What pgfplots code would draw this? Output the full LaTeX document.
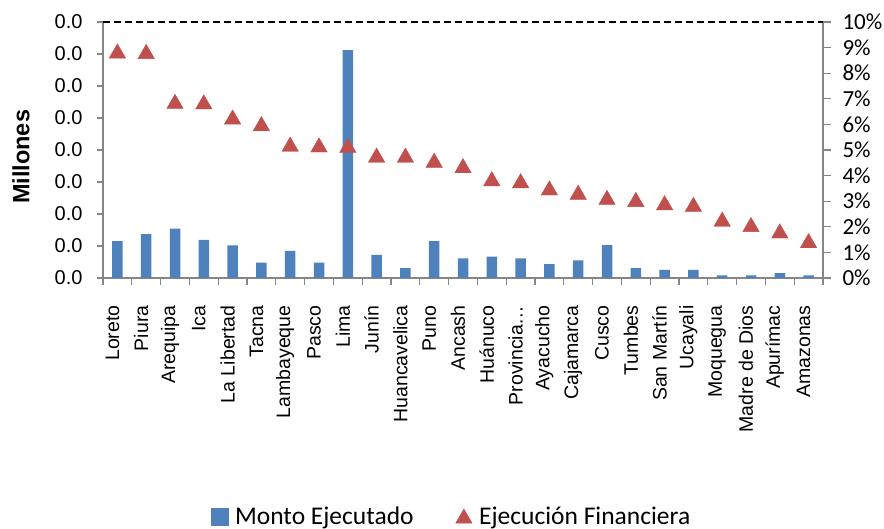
\documentclass[border=0pt]{standalone}
\usepackage{fontspec}
\setmainfont{Carlito}
\newfontfamily\arialf{Liberation Sans}
\usepackage{pgfplots}
\pgfplotsset{compat=1.18}
\definecolor{barblue}{HTML}{4F81BD}
\definecolor{trired}{HTML}{C0504D}
\definecolor{axgray}{HTML}{868686}
\begin{document}
\begin{tikzpicture}
\useasboundingbox (0,0) rectangle (884bp,529bp);
\begin{axis}[
  at={(103bp,251bp)}, anchor=south west,
  width=720bp, height=256bp, scale only axis,
  xmin=-0.5, xmax=24.5, ymin=0, ymax=8,
  axis x line*=bottom, axis y line*=left,
  axis line style={axgray, line width=1.2bp},
  xtick={0,...,24},
  xticklabels={Loreto,Piura,Arequipa,Ica,La Libertad,Tacna,Lambayeque,Pasco,Lima,Junín,Huancavelica,Puno,Ancash,Huánuco,Provincia…,Ayacucho,Cajamarca,Cusco,Tumbes,San Martín,Ucayali,Moquegua,Madre de Dios,Apurímac,Amazonas},
  minor xtick={-0.5,0.5,...,24.5},
  major x tick style={draw=none},
  minor x tick style={axgray, line width=1.2bp},
  y tick style={axgray, line width=1.2bp},
  ytick={0,...,8},
  yticklabels={0.0,0.0,0.0,0.0,0.0,0.0,0.0,0.0,0.0},
  tick align=outside,
  major tick length=6bp, minor tick length=7bp,
  xticklabel style={rotate=90, anchor=east, xshift=-18bp, yshift=5bp, font=\arialf\fontsize{19.5bp}{23bp}\selectfont},
  yticklabel style={xshift=-11bp, font=\arialf\fontsize{20bp}{24bp}\selectfont},
  every axis y label/.style={at={(axis description cs:-0.114,0.473)}, rotate=90, anchor=center},
  ylabel={\arialf\bfseries\fontsize{23.5bp}{26bp}\selectfont Millones},
]
\addplot[ybar, bar width=10.5bp, fill=barblue, draw=none] coordinates {
(0,1.15) (1,1.37) (2,1.54) (3,1.19) (4,1.02) (5,0.48) (6,0.85) (7,0.48)
(8,7.12) (9,0.72) (10,0.31) (11,1.15) (12,0.61) (13,0.67) (14,0.61)
(15,0.43) (16,0.55) (17,1.03) (18,0.31) (19,0.25) (20,0.25) (21,0.08)
(22,0.08) (23,0.15) (24,0.08)};
\end{axis}
\begin{axis}[
  at={(103bp,251bp)}, anchor=south west,
  width=720bp, height=256bp, scale only axis,
  xmin=-0.5, xmax=24.5, ymin=0, ymax=10,
  axis y line*=right, axis x line=none,
  axis line style={axgray, line width=1.2bp},
  y tick style={axgray, line width=1.2bp},
  ytick={0,...,10},
  yticklabels={0\%,1\%,2\%,3\%,4\%,5\%,6\%,7\%,8\%,9\%,10\%},
  tick align=outside, major tick length=8bp,
  yticklabel style={xshift=8bp, font=\fontsize{23bp}{26bp}\selectfont},
  legend columns=2,
  legend style={at={(axis description cs:0.484,-0.93)}, anchor=center, draw=none,
    font=\fontsize{25.5bp}{28bp}\selectfont, inner sep=0pt,
    /tikz/every odd column/.append style={column sep=5bp},
    /tikz/every even column/.append style={column sep=40bp}},
]
\draw[black, line width=1.6bp, dash pattern=on 7bp off 4bp] (rel axis cs:0,1) -- (rel axis cs:1,1);
\addlegendimage{legend image code/.code={\fill[barblue] (0bp,-9bp) rectangle (17bp,8bp);}}
\addlegendentry{Monto Ejecutado}
\addplot[only marks, mark=triangle*, mark size=9.5bp, color=trired,
  mark options={yshift=-2.4bp}] coordinates {
(0,8.87) (1,8.85) (2,6.9) (3,6.88) (4,6.29) (5,6.03) (6,5.23) (7,5.2)
(8,5.18) (9,4.8) (10,4.8) (11,4.6) (12,4.39) (13,3.88) (14,3.8)
(15,3.52) (16,3.35) (17,3.15) (18,3.07) (19,2.94) (20,2.88) (21,2.3)
(22,2.09) (23,1.84) (24,1.46)};
\addlegendentry{Ejecución Financiera}
\end{axis}
\end{tikzpicture}
\end{document}
